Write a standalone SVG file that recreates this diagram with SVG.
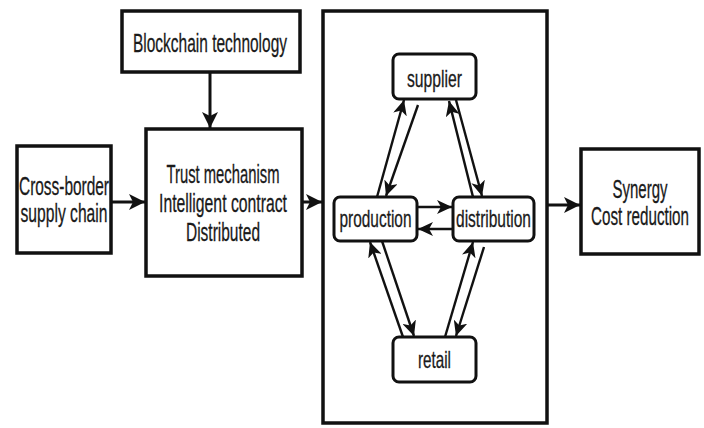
<svg xmlns="http://www.w3.org/2000/svg" width="704" height="428" viewBox="0 0 704 428">
<style>
.box{fill:#fff;stroke:#111;stroke-width:3.5}
.rbox{fill:#fff;stroke:#111;stroke-width:3}
.t{font-family:"Liberation Sans",Arial,sans-serif;font-size:25px;fill:#1a1a1a;text-anchor:middle;stroke:#1a1a1a;stroke-width:0.3}
.s{font-size:24px}
.c{stroke:#111;stroke-width:3;fill:none}
.ci{stroke:#111;stroke-width:2.4;fill:none}
</style>
<defs>
<marker id="ah" markerUnits="userSpaceOnUse" markerWidth="18" markerHeight="16" refX="16" refY="8" orient="auto">
<path d="M0,0 L16,8 L0,16 L4,8 z" fill="#111"/>
</marker>
<marker id="ahs" markerUnits="userSpaceOnUse" markerWidth="16" markerHeight="14" refX="15" refY="7" orient="auto">
<path d="M0,0 L15,7 L0,14 L4,7 z" fill="#111"/>
</marker>
</defs>
<rect width="704" height="428" fill="#fff"/>
<g id="blockchain"><rect class="box" x="122" y="11" width="178" height="61"/><text class="t" x="210" y="52" textLength="154" lengthAdjust="spacingAndGlyphs" style="font-size:26px">Blockchain technology</text></g>
<g id="crossborder"><rect class="box" x="17" y="146" width="94" height="107"/><text class="t" x="64" y="195" textLength="90" lengthAdjust="spacingAndGlyphs">Cross-border</text><text class="t" x="64" y="222" textLength="87" lengthAdjust="spacingAndGlyphs">supply chain</text></g>
<g id="trust"><rect class="box" x="146" y="129" width="156" height="147"/><text class="t" x="223" y="183" textLength="113" lengthAdjust="spacingAndGlyphs">Trust mechanism</text><text class="t" x="223" y="212" textLength="128" lengthAdjust="spacingAndGlyphs">Intelligent contract</text><text class="t" x="223" y="241" textLength="74" lengthAdjust="spacingAndGlyphs">Distributed</text></g>
<g id="container"><rect class="box" x="323" y="11" width="224" height="412"/></g>
<g id="supplier"><rect class="rbox" x="393" y="54" width="83" height="45" rx="6"/><text class="t s" x="434.5" y="87" textLength="55" lengthAdjust="spacingAndGlyphs">supplier</text></g>
<g id="production"><rect class="rbox" x="334" y="197" width="83" height="44" rx="6"/><text class="t s" x="375.5" y="227" textLength="72" lengthAdjust="spacingAndGlyphs">production</text></g>
<g id="distribution"><rect class="rbox" x="453" y="197" width="81" height="44" rx="6"/><text class="t s" x="493.5" y="227" textLength="75" lengthAdjust="spacingAndGlyphs">distribution</text></g>
<g id="retail"><rect class="rbox" x="393" y="337" width="83" height="45" rx="6"/><text class="t s" x="434.5" y="368" textLength="33" lengthAdjust="spacingAndGlyphs">retail</text></g>
<g id="synergy"><rect class="box" x="581" y="149" width="118" height="105"/><text class="t" x="640" y="198" textLength="55" lengthAdjust="spacingAndGlyphs">Synergy</text><text class="t" x="640" y="225" textLength="98" lengthAdjust="spacingAndGlyphs">Cost reduction</text></g>
<g id="connectors">
<line class="c" x1="210" y1="72" x2="210" y2="128" marker-end="url(#ah)"/>
<line class="c" x1="111" y1="202" x2="145" y2="202" marker-end="url(#ah)"/>
<line class="c" x1="302" y1="202" x2="322" y2="202" marker-end="url(#ah)"/>
<line class="c" x1="547" y1="205" x2="580" y2="205" marker-end="url(#ah)"/>
<line class="ci" x1="377" y1="197" x2="404" y2="100" marker-end="url(#ahs)"/>
<line class="ci" x1="418" y1="105" x2="386" y2="196" marker-end="url(#ahs)"/>
<line class="ci" x1="473" y1="197" x2="449" y2="101" marker-end="url(#ahs)"/>
<line class="ci" x1="456" y1="100" x2="482" y2="196" marker-end="url(#ahs)"/>
<line class="ci" x1="417" y1="207" x2="452" y2="207" marker-end="url(#ahs)"/>
<line class="ci" x1="453" y1="229" x2="418" y2="229" marker-end="url(#ahs)"/>
<line class="ci" x1="403" y1="337" x2="370" y2="242" marker-end="url(#ahs)"/>
<line class="ci" x1="382" y1="241" x2="414" y2="336" marker-end="url(#ahs)"/>
<line class="ci" x1="445" y1="337" x2="473" y2="242" marker-end="url(#ahs)"/>
<line class="ci" x1="484" y1="247" x2="456" y2="336" marker-end="url(#ahs)"/>
</g>
</svg>
